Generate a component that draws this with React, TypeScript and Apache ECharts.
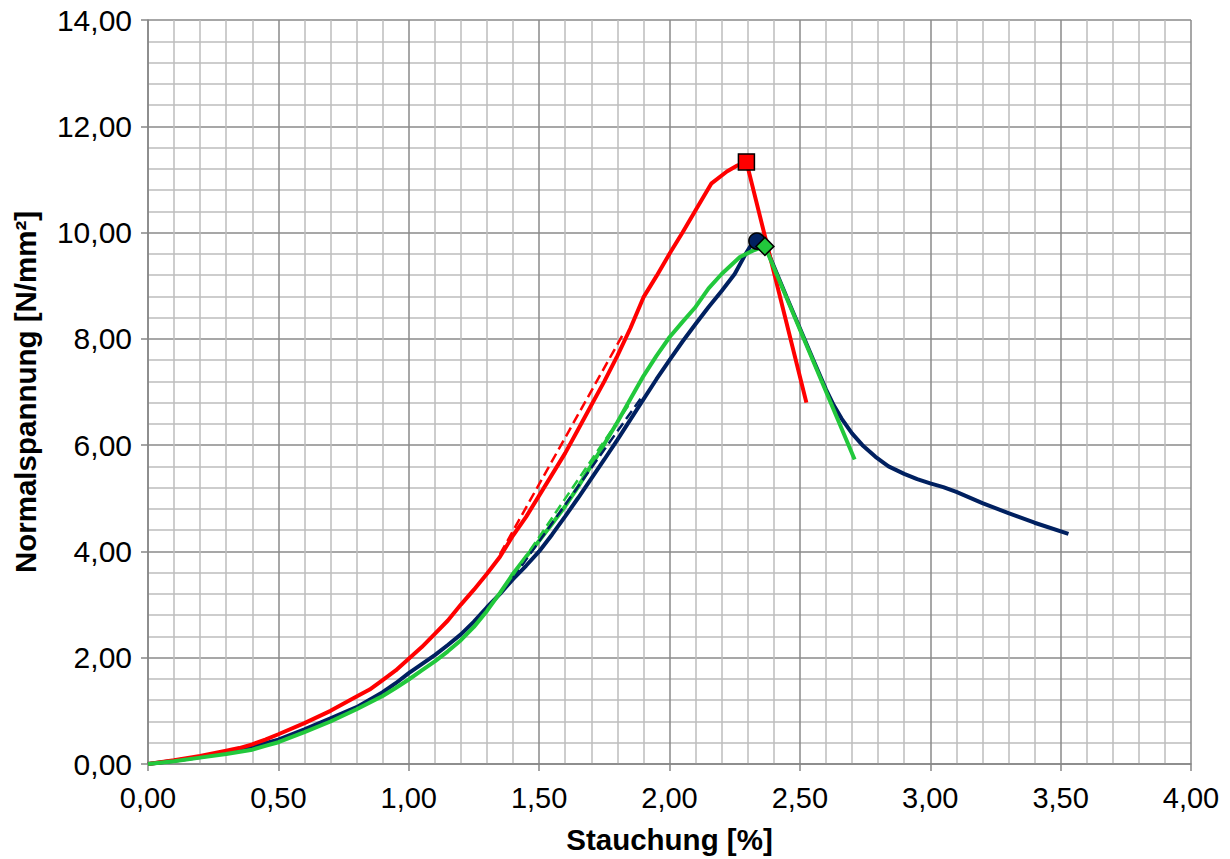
import React, { useEffect, useRef } from "react";
import * as echarts from "echarts";

// Stauchung [%] vs Normalspannung [N/mm²]
const redCurve: [number, number][] = [
  [0, 0], [0.1, 0.07], [0.2, 0.15], [0.3, 0.25], [0.35, 0.3], [0.4, 0.37], [0.45, 0.46],
  [0.5, 0.56], [0.6, 0.77], [0.7, 1.0], [0.8, 1.27], [0.85, 1.4], [0.9, 1.58], [0.95, 1.76],
  [1.0, 1.98], [1.05, 2.2], [1.1, 2.45], [1.15, 2.7], [1.2, 3.0], [1.25, 3.28], [1.3, 3.58],
  [1.35, 3.9], [1.4, 4.3], [1.45, 4.65], [1.5, 5.05], [1.55, 5.45], [1.6, 5.85], [1.65, 6.3],
  [1.7, 6.75], [1.75, 7.2], [1.8, 7.68], [1.85, 8.2], [1.9, 8.78], [1.95, 9.18], [2.0, 9.6],
  [2.05, 10.0], [2.1, 10.42], [2.16, 10.92], [2.22, 11.15], [2.26, 11.26], [2.295, 11.33],
  [2.525, 6.8],
];

const navyCurve: [number, number][] = [
  [0, 0], [0.1, 0.06], [0.2, 0.13], [0.3, 0.22], [0.4, 0.32], [0.45, 0.39], [0.5, 0.46],
  [0.6, 0.65], [0.7, 0.86], [0.8, 1.07], [0.9, 1.35], [0.95, 1.52], [1.0, 1.71], [1.05, 1.88],
  [1.1, 2.05], [1.15, 2.24], [1.2, 2.44], [1.25, 2.68], [1.3, 2.95], [1.35, 3.2], [1.4, 3.48],
  [1.45, 3.73], [1.5, 4.0], [1.55, 4.32], [1.6, 4.66], [1.65, 5.01], [1.7, 5.37], [1.75, 5.73],
  [1.8, 6.1], [1.85, 6.48], [1.9, 6.86], [1.95, 7.24], [2.0, 7.6], [2.05, 7.95], [2.1, 8.28],
  [2.15, 8.6], [2.2, 8.9], [2.25, 9.22], [2.29, 9.58], [2.32, 9.82], [2.345, 9.87],
  [2.37, 9.72], [2.45, 8.78], [2.55, 7.62], [2.6, 7.05], [2.63, 6.75], [2.66, 6.5],
  [2.7, 6.22], [2.74, 6.0], [2.79, 5.78], [2.84, 5.6], [2.9, 5.46], [2.95, 5.36],
  [3.0, 5.28], [3.05, 5.21], [3.1, 5.12], [3.2, 4.91], [3.3, 4.72], [3.4, 4.54], [3.53, 4.33],
];

const greenCurve: [number, number][] = [
  [0, 0], [0.1, 0.05], [0.2, 0.12], [0.3, 0.19], [0.4, 0.27], [0.45, 0.34], [0.5, 0.41],
  [0.6, 0.6], [0.7, 0.8], [0.8, 1.03], [0.9, 1.28], [0.95, 1.43], [1.0, 1.59], [1.05, 1.76],
  [1.1, 1.93], [1.15, 2.12], [1.2, 2.33], [1.25, 2.58], [1.3, 2.88], [1.35, 3.22], [1.4, 3.58],
  [1.45, 3.9], [1.5, 4.2], [1.55, 4.52], [1.6, 4.85], [1.65, 5.22], [1.7, 5.62], [1.75, 6.02],
  [1.8, 6.43], [1.85, 6.87], [1.9, 7.3], [1.95, 7.68], [2.0, 8.03], [2.05, 8.32], [2.1, 8.6],
  [2.15, 8.95], [2.2, 9.22], [2.27, 9.54], [2.32, 9.66], [2.366, 9.74], [2.71, 5.73],
];

const redSecant: [number, number][] = [[1.35, 3.95], [1.82, 8.07]];
const navySecant: [number, number][] = [[1.4, 3.5], [1.9, 6.95]];
const greenSecant: [number, number][] = [[1.4, 3.55], [1.85, 6.8]];

const redPeak: [number, number][] = [[2.295, 11.33]];
const navyPeak: [number, number][] = [[2.335, 9.84]];
const greenPeak: [number, number][] = [[2.366, 9.74]];

const xTitle = "Stauchung [%]";
const yTitle = "Normalspannung [N/mm²]";

const RED = "#FF0000";
const NAVY = "#002060";
const GREEN = "#22C83C";
const FONT = 'Arial, "Liberation Sans", sans-serif';

const fmt = (v: number) => v.toFixed(2).replace(".", ",");

export default function App() {
  const ref = useRef<HTMLDivElement>(null);
  useEffect(() => {
    if (!ref.current) return;
    const chart = echarts.init(ref.current, undefined, { renderer: "svg" });
    const axisCommon = (min: number, max: number, interval: number) => ({
      type: "value" as const,
      min,
      max,
      interval,
      axisLine: { show: true, onZero: false, lineStyle: { color: "#868686", width: 1.5 } },
      axisTick: { show: true, length: 7, lineStyle: { color: "#868686", width: 1.5 } },
      splitLine: { show: true, lineStyle: { color: "#8a8a8a", width: 1.5 } },
      minorTick: { show: false, splitNumber: 5 },
      minorSplitLine: { show: true, lineStyle: { color: "#bcbcbc", width: 1.5 } },
      nameLocation: "middle" as const,
      nameTextStyle: { color: "#000", fontSize: 29.5, fontWeight: "bold" as const, fontFamily: FONT },
    });
    const line = (data: [number, number][], color: string, width: number, z: number, dashed = false) => ({
      type: "line" as const,
      data,
      showSymbol: false,
      symbol: "none",
      smooth: false,
      z,
      lineStyle: { color, width, type: dashed ? ("dashed" as const) : ("solid" as const) },
    });
    const marker = (data: [number, number][], symbol: string, size: number, color: string) => ({
      type: "scatter" as const,
      data,
      symbol,
      symbolSize: size,
      z: 10,
      itemStyle: { color, borderColor: "#000", borderWidth: 1.5, opacity: 1 },
    });
    chart.setOption({
      animation: false,
      backgroundColor: "#fff",
      grid: { left: 148, right: 39, top: 20, bottom: 94, containLabel: false },
      xAxis: {
        ...axisCommon(0, 4, 0.5),
        name: xTitle,
        nameGap: 60,
        axisLabel: { formatter: fmt, color: "#000", fontSize: 29, fontFamily: FONT, margin: 19 },
      },
      yAxis: {
        ...axisCommon(0, 14, 2),
        name: yTitle,
        nameGap: 108,
        nameRotate: 90,
        axisLabel: { formatter: fmt, color: "#000", fontSize: 30, fontFamily: FONT, margin: 16 },
      },
      series: [
        line(navyCurve, NAVY, 4, 3),
        line(redCurve, RED, 4, 4),
        line(greenCurve, GREEN, 4, 5),
        line(redSecant, RED, 2.5, 6, true),
        line(navySecant, NAVY, 2.5, 6, true),
        line(greenSecant, GREEN, 2.5, 6, true),
        marker(navyPeak, "circle", 16, NAVY),
        marker(redPeak, "rect", 16, RED),
        marker(greenPeak, "diamond", 18, GREEN),
      ],
    });
    return () => chart.dispose();
  }, []);
  return (
    <div
      ref={ref}
      style={{ position: "fixed", left: 0, top: 0, width: 1230, height: 859, background: "#fff" }}
    />
  );
}
